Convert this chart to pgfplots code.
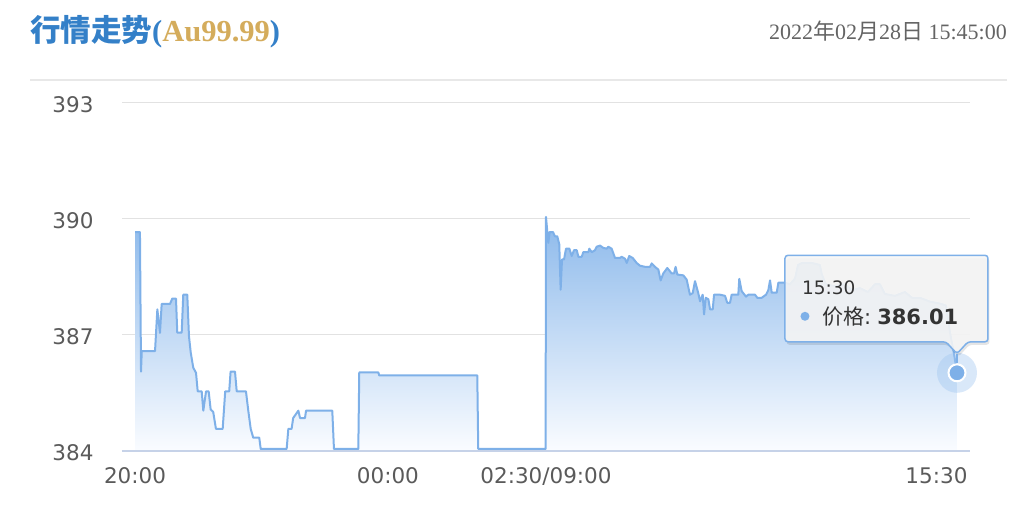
\documentclass[border=0pt]{standalone}
\usepackage{pgfplots}
\pgfplotsset{compat=1.18}
\usepackage{pgfplotstable}
\usepackage{fontspec}
\setmainfont{DejaVu Sans}
\newfontfamily\cjk{Noto Sans CJK SC}
\newfontfamily\serifnum{Liberation Serif}

\definecolor{linec}{RGB}{126,176,232}
\definecolor{filltop}{RGB}{140,185,235}
\definecolor{fillbot}{RGB}{250,252,255}
\definecolor{gridc}{RGB}{226,226,226}
\definecolor{axisc}{RGB}{198,210,232}
\definecolor{labelc}{RGB}{90,90,90}
\definecolor{titleblue}{RGB}{52,128,200}
\definecolor{gold}{RGB}{212,172,92}
\definecolor{dategray}{RGB}{100,100,100}
\definecolor{headc}{RGB}{232,232,232}
\definecolor{halo}{RGB}{160,198,240}
\definecolor{tipbg}{RGB}{246,246,246}
\definecolor{tiptext}{RGB}{51,51,51}

% minutes since 20:00 (night 20:00-02:30, day 09:00-15:30 joined at 390)
\pgfplotstableread{
t price
0 389.65
4.7 389.65
5.7 386.04
6.4 386.57
19.0 386.57
21.2 387.65
23.7 387.04
25.3 387.79
33.2 387.79
35.4 387.93
38.9 387.93
40.1 387.05
44.3 387.05
45.8 388.03
49.6 388.03
51.2 386.96
52.9 386.53
55.3 386.14
57.9 386.01
59.5 385.53
63.3 385.53
64.8 385.03
67.4 385.53
69.9 385.53
71.8 385.06
74.2 385.00
76.8 384.56
83.2 384.56
85.6 385.53
89.4 385.53
90.7 386.04
94.9 386.04
96.5 385.53
105.3 385.53
107.5 385.03
109.8 384.56
112.2 384.33
117.9 384.33
119.3 384.04
143.9 384.04
145.5 384.56
148.6 384.56
150.1 384.84
155.0 385.03
156.6 384.84
161.3 384.84
162.3 385.03
187.2 385.03
188.8 384.04
211.9 384.04
212.8 386.02
230.9 386.02
231.8 385.94
324.8 385.94
325.7 384.04
389.6 384.04
390.0 390.04
391.2 389.67
392.2 389.37
393.5 389.65
396.6 389.65
398.5 389.54
400.7 389.54
402.6 389.33
403.9 388.16
405.2 388.94
407.1 388.94
409.0 389.22
412.2 389.22
414.4 389.03
416.6 389.18
419.2 389.18
420.7 389.01
423.9 389.01
425.4 389.13
430.2 389.13
431.1 389.22
433.4 389.13
436.5 389.18
438.1 389.27
441.3 389.30
444.4 389.24
447.6 389.22
449.1 389.27
452.3 389.22
455.5 388.98
460.2 388.98
461.8 389.01
465.0 388.96
466.6 388.85
469.0 389.03
472.3 388.98
476.0 388.85
479.2 388.78
484.0 388.75
488.7 388.75
490.3 388.84
493.4 388.75
496.6 388.68
498.8 388.40
501.3 388.58
505.1 388.72
509.3 388.58
511.5 388.58
513.0 388.75
514.6 388.55
520.3 388.53
523.5 388.42
526.6 388.03
529.2 388.07
531.4 388.38
534.5 388.07
536.2 387.86
538.7 388.03
540.0 387.52
541.6 387.95
544.1 387.91
545.7 387.65
548.2 387.65
549.5 388.03
555.1 388.03
559.9 388.00
562.0 387.82
564.6 387.82
566.2 388.03
572.5 388.03
573.4 388.44
575.7 388.12
579.8 387.98
582.0 388.03
588.3 388.03
590.5 387.95
594.7 387.95
598.8 388.03
601.0 388.15
602.6 388.40
604.2 388.08
608.9 388.08
610.5 388.34
616.8 388.34
621.5 388.30
626.3 388.45
629.1 388.80
632.9 388.85
642.4 388.85
649.9 388.80
651.8 388.55
655.6 388.30
664.1 388.25
673.6 388.30
680.4 388.15
687.9 388.20
695.5 388.10
702.1 388.30
706.9 388.30
711.6 388.05
721.1 388.00
730.6 388.10
737.3 387.95
744.9 387.95
754.4 387.85
763.9 387.80
769.6 387.75
773.4 387.05
777.2 386.50
780.0 386.01
}\price

\begin{document}
\begin{tikzpicture}
\path[use as bounding box] (0pt,0pt) rectangle (1034pt,-516pt);

% header
\node[anchor=base west, inner sep=0pt] at (30pt,-42pt)
  {\fontsize{30.5}{32}\selectfont\color{titleblue}{\cjk\bfseries 行情走势}{\serifnum\bfseries(\textcolor{gold}{Au99.99})}};
\node[anchor=base east, inner sep=0pt] at (1007pt,-39.5pt)
  {\fontsize{22}{24}\selectfont\color{dategray}\serifnum 2022{\cjk 年}02{\cjk 月}28{\cjk 日} 15:45:00};
\draw[line width=2pt, headc] (30pt,-80pt) -- (1007pt,-80pt);

\begin{axis}[
  at={(122pt,-450.5pt)}, anchor=south west,
  width=848pt, height=348pt, scale only axis,
  xmin=-12.34, xmax=792.35, ymin=384, ymax=393,
  ytick={384,387,390,393},
  xtick={0,240,390},
  xticklabels={20:00,00:00,02:30/09:00},
  extra x ticks={780},
  extra x tick labels={15:30},
  extra x tick style={xticklabel style={anchor=north east, xshift=14pt}},
  axis line style={draw=none},
  major tick length=0pt,
  tick style={draw=none},
  ymajorgrids,
  grid style={line width=1.5pt, gridc},
  ticklabel style={font=\fontsize{21.5}{24}\selectfont, text=labelc},
  /pgf/number format/assume math mode=true,
  yticklabel style={xshift=-25pt, yshift=-2.5pt},
  xticklabel style={yshift=-14pt},
  clip=false,
]
\addplot[draw=none, top color=filltop, bottom color=fillbot]
  table[x=t, y=price] {\price} |- (axis cs:0,384) -- cycle;
\addplot[linec, line width=2pt, line join=round] table[x=t, y=price] {\price};
\draw[axisc, line width=2pt] (rel axis cs:0,0) -- (rel axis cs:1,0);
\addplot[halo, only marks, mark=*, mark size=20pt,
  mark options={draw opacity=0, fill=halo, fill opacity=0.4}] coordinates {(780,386.01)};
\addplot[white, only marks, mark=*, mark size=8.5pt,
  mark options={draw=white, line width=2pt, fill=linec}] coordinates {(780,386.01)};
\coordinate (P) at (axis cs:780,386.01);
\end{axis}

% tooltip
\begin{scope}[shift={(P)}, x=1pt, y=1pt]
\fill[black, opacity=0.10, rounded corners=3pt, shift={(1.5,-3)}]
  (-172,31) -- (-172,117.5) -- (31,117.5) -- (31,31) -- (11,31) -- (0,19) -- (-11,31) -- cycle;
\filldraw[fill=tipbg, fill opacity=0.9, draw=linec, line width=1.5pt, rounded corners=3pt]
  (-172,31) -- (-172,117.5) -- (31,117.5) -- (31,31) -- (11,31) -- (0,19) -- (-11,31) -- cycle;
\draw[linec, line width=1.2pt] (0,19) -- (0,10);
\node[anchor=base west, inner sep=0pt] at (-155,78.5)
  {\fontsize{18.5}{20}\selectfont\color{tiptext}15:30};
\fill[linec] (-152,56.5) circle (4.5);
\node[anchor=base west, inner sep=0pt] at (-135,48.5)
  {\fontsize{21}{23}\selectfont\color{tiptext}{\cjk 价格}:\hspace{6pt}\bfseries 386.01};
\end{scope}
\end{tikzpicture}
\end{document}
